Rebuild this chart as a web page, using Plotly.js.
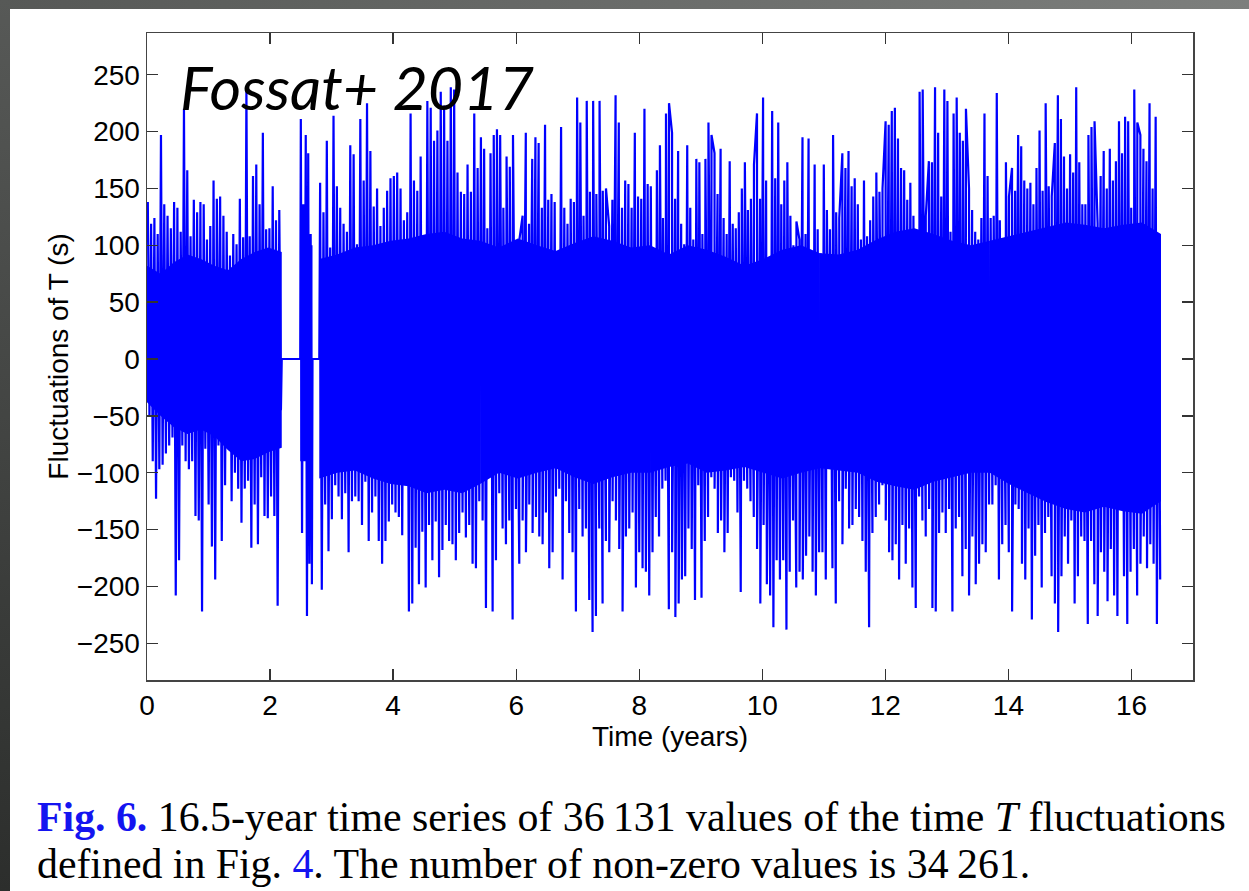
<!DOCTYPE html>
<html>
<head>
<meta charset="utf-8">
<script src="https://cdn.plot.ly/plotly-3.0.1.min.js"></script>
<style>
  html, body { margin:0; padding:0; background:#ffffff; width:1249px; height:891px; overflow:hidden; }
  #topbar { position:absolute; left:0; top:0; width:1249px; height:9px; background:linear-gradient(to right,#565856,#7d7f7d); z-index:5; }
  #leftbar { position:absolute; left:0; top:0; width:10px; height:891px; background:linear-gradient(to bottom,#575957,#2c2e2c); z-index:5; }
  #chart { position:absolute; left:0; top:0; width:1249px; height:891px; }
  #caption { position:absolute; left:37px; top:794px; width:1210px; font-family:"Liberation Serif","Times New Roman",serif; font-size:41.8px; line-height:47px; color:#000; white-space:nowrap; z-index:4; }
  #caption .blue { color:#1414f0; }
</style>
</head>
<body>
<div id="topbar"></div>
<div id="leftbar"></div>
<div id="chart"></div>
<div id="caption"><span class="blue"><b>Fig. 6.</b></span> 16.5-year time series of 36&thinsp;131 values of the time <i>T</i> fluctuations<br>defined in Fig. <span class="blue">4</span>. The number of non-zero values is 34&thinsp;261.</div>
<script>
// ---- Data (T fluctuations, seconds, vs time in years) ----
// Time spans (years) of each recorded block
const segStart = [0.0, 2.49, 2.80, 5.414, 8.176, 10.937, 13.699];
const segEnd   = [2.19, 2.69, 5.414, 8.176, 10.937, 13.699, 16.48];
// Spans with zero values (no data)
const zeroStart = [2.19, 2.69];
const zeroEnd   = [2.49, 2.80];

// Upper excursions (spikes) per block
const hi1 = [138,119,124,110,197,136,126,115,138,133,112,220,166,108,140,129,138,136,105,117,157,141,143,126,112,91,110,101,141,107,239,108,161,171,136,199,114,115,152,122,131];
const hi2 = [211,136,197,181,110];
const hi3 = [155,129,192,98,214,152,133,119,112,188,180,101,211,157,225,183,134,150,117,133,148,159,161,164,150,122,129,216,157,148,178,108,227,221,192,201,235,223,192,239,237,164,147,145,171,147,216,168];
const hi4 = [195,185,115,181,197,202,197,133,178,169,197,101,105,126,199,119,176,195,190,133,206,140,145,138,93,204,133,119,141,138,230,208,126,227,147,227,145,227,148,150,117,140,232,208,133,157,154,133,199,143,141,220,154];
const hi5 = [152,91,166,188,124,216,225,199,141,183,119,101,188,133,105,176,173,110,176,208,197,181,145,185,124,110,174,119,115,129,150,173,131,141,171,216,141,230,157,82,218,159,208,136,157,173,126,100,121,105,195,110,194,93,171,114];
const hi6 = [93,171,131,114,197,129,124,181,168,183,152,159,136,105,157,108,122,143,164,147,150,209,206,218,221,194,168,166,140,155,126,84,235,237,126,174,173,239,199,143,237,227,112,216,230,199,192,220,150,131,112,105,124,216,161];
const hi7 = [124,126,234,122,105,173,143,168,148,197,187,157,150,155,136,168,201,148,225,152,143,190,232,211,178,150,180,164,239,173,136,136,197,204,209,119,161,183,150,185,157,174,209,181,213,209,133,237,208,197,185,174,225,150,213,98];

// Lower excursions (spikes) per block
const lo1 = [-50,-90,-123,-97,-93,-83,-76,-69,-208,-177,-76,-90,-97,-90,-138,-142,-222,-79,-128,-165,-194,-76,-160,-111,-79,-125,-100,-114,-144,-114,-107,-166,-128,-163,-104,-138,-140,-121,-138,-217,-45];
const lo2 = [-153,-76,-226,-180,-198];
const lo3 = [-203,-128,-169,-141,-111,-121,-141,-118,-170,-125,-121,-125,-146,-108,-160,-135,-121,-160,-180,-160,-143,-128,-135,-139,-155,-111,-222,-215,-166,-198,-152,-201,-146,-177,-143,-192,-168,-146,-160,-163,-177,-153,-135,-157,-146,-180,-184,-125];
const lo4 = [-142,-219,-97,-222,-177,-118,-149,-163,-142,-229,-132,-180,-142,-170,-128,-153,-139,-156,-163,-135,-184,-170,-121,-114,-194,-125,-153,-170,-222,-132,-156,-149,-212,-240,-226,-149,-215,-160,-170,-125,-142,-167,-222,-156,-149,-135,-201,-170,-184,-187,-208];
const lo5 = [-170,-139,-156,-114,-107,-220,-170,-227,-215,-194,-191,-149,-167,-212,-111,-210,-160,-139,-104,-114,-153,-142,-170,-153,-104,-107,-135,-205,-107,-114,-125,-139,-167,-215,-146,-198,-208,-236,-177,-194,-177,-238,-187,-142,-201,-187,-194,-173,-156,-187,-208,-170];
const lo6 = [-170,-194,-93,-184,-215,-125,-163,-114,-149,-146,-132,-139,-160,-187,-236,-153,-139,-128,-111,-142,-170,-177,-163,-194,-146,-180,-149,-201,-219,-121,-142,-156,-132,-219,-222,-153,-135,-153,-132,-222,-149,-139,-191,-167,-208,-156,-198,-180,-163,-170,-128];
const lo7 = [-128,-111,-194,-163,-146,-170,-222,-128,-132,-180,-194,-149,-229,-173,-146,-201,-153,-139,-191,-215,-240,-191,-156,-180,-142,-215,-191,-156,-160,-233,-160,-198,-226,-170,-187,-213,-167,-208,-226,-132,-191,-233,-187,-167,-208,-180,-156,-184,-163,-180,-233,-194];

// Extent of the dense (solid) part of the trace per block: upper and lower edge
const coreHi1 = [82,75,85,92,88,82,78,88,94,98,94];
const coreLo1 = [-38,-50,-60,-66,-62,-68,-80,-90,-88,-82,-78];
const coreHi2 = [100,100];
const coreLo2 = [-90,-90];
const coreHi3 = [88,92,98,100,104,106,110,112,106,104];
const coreLo3 = [-105,-100,-98,-105,-110,-112,-118,-115,-118,-110];
const coreHi4 = [104,98,106,100,95,102,108,104,98,100];
const coreLo4 = [-110,-100,-105,-100,-96,-104,-110,-104,-100,-100];
const coreHi5 = [100,92,100,96,90,82,88,96,100,93];
const coreLo5 = [-100,-95,-92,-100,-98,-95,-100,-105,-100,-96];
const coreHi6 = [93,92,96,105,112,115,110,104,100,104];
const coreLo6 = [-96,-98,-100,-108,-112,-115,-108,-104,-100,-100];
const coreHi7 = [104,108,112,116,120,118,115,118,120,110];
const coreLo7 = [-100,-110,-118,-126,-132,-135,-130,-134,-136,-125];

const xTicks = [0,2,4,6,8,10,12,14,16];
const yTicks = [-250,-200,-150,-100,-50,0,50,100,150,200,250];

// ---- Build the traces ----
const BLUE = '#0000ff';
const hiSets = [hi1,hi2,hi3,hi4,hi5,hi6,hi7];
const loSets = [lo1,lo2,lo3,lo4,lo5,lo6,lo7];
const coreHiSets = [coreHi1,coreHi2,coreHi3,coreHi4,coreHi5,coreHi6,coreHi7];
const coreLoSets = [coreLo1,coreLo2,coreLo3,coreLo4,coreLo5,coreLo6,coreLo7];

const traces = [];
// dense band of each block
for (let k = 0; k < segStart.length; k++) {
  const s = segStart[k], e = segEnd[k];
  const ch = coreHiSets[k], cl = coreLoSets[k];
  const n = ch.length;
  const ts = ch.map((_, i) => s + (e - s) * (n === 1 ? 0 : i / (n - 1)));
  traces.push({
    x: ts.concat(ts.slice().reverse()),
    y: ch.concat(cl.slice().reverse()),
    type:'scatter', mode:'lines', fill:'toself', fillcolor:BLUE,
    line:{width:0, color:BLUE}, hoverinfo:'skip'
  });
}
// spikes
const tx = [], vy = [];
for (let k = 0; k < segStart.length; k++) {
  const s = segStart[k], e = segEnd[k], span = e - s;
  const hi = hiSets[k], lo = loSets[k];
  const pts = [];
  hi.forEach((v,i) => pts.push([s + (i + 0.25) * span / hi.length, v]));
  lo.forEach((v,i) => pts.push([s + (i + 0.75) * span / lo.length, v]));
  pts.sort((a,b) => a[0] - b[0]);
  pts.forEach(p => { tx.push(p[0]); vy.push(p[1]); });
  if (k < zeroStart.length) {
    tx.push(zeroStart[k]); vy.push(0);
    tx.push(zeroEnd[k]); vy.push(0);
  }
}
traces.push({ x: tx, y: vy, type:'scatter', mode:'lines', line:{color:BLUE, width:2.2}, hoverinfo:'skip' });

const axisFont = {family:'"Liberation Sans", Arial, Helvetica, sans-serif', size:28, color:'#000'};

const layout = {
  width:1249, height:891,
  margin:{l:147, r:56, t:33, b:211},
  paper_bgcolor:'rgba(0,0,0,0)', plot_bgcolor:'#ffffff',
  showlegend:false,
  font: axisFont,
  xaxis:{
    range:[0,17], tickvals:xTicks, ticktext:xTicks.map(String),
    ticks:'inside', ticklen:11, tickwidth:1.3, tickcolor:'#333',
    showline:true, linecolor:'#444', linewidth:1.5, mirror:'ticks',
    showgrid:false, zeroline:false, tickfont:axisFont,
    title:{text:'Time (years)', font:axisFont, standoff:1}
  },
  yaxis:{
    range:[-282.3, 286.7], tickvals:yTicks, ticktext:yTicks.map(v => v < 0 ? '\u2212' + Math.abs(v) : String(v)),
    ticks:'inside', ticklen:11, tickwidth:1.3, tickcolor:'#333',
    showline:true, linecolor:'#444', linewidth:1.5, mirror:'ticks',
    showgrid:false, zeroline:false, tickfont:axisFont, ticklabelstandoff:0,
    title:{text:'Fluctuations of T (s)', font:axisFont, standoff:0}
  },
  annotations:[{
    text:'<i>Fossat+ 2017</i>', xref:'paper', yref:'paper',
    x:(178-147)/1046, y:(680-86)/647, xanchor:'left', yanchor:'middle', showarrow:false,
    font:{family:'Lato, "Open Sans", sans-serif', size:61, color:'#000'}
  }]
};

Plotly.newPlot('chart', traces, layout, {displayModeBar:false, staticPlot:true});
</script>
</body>
</html>
